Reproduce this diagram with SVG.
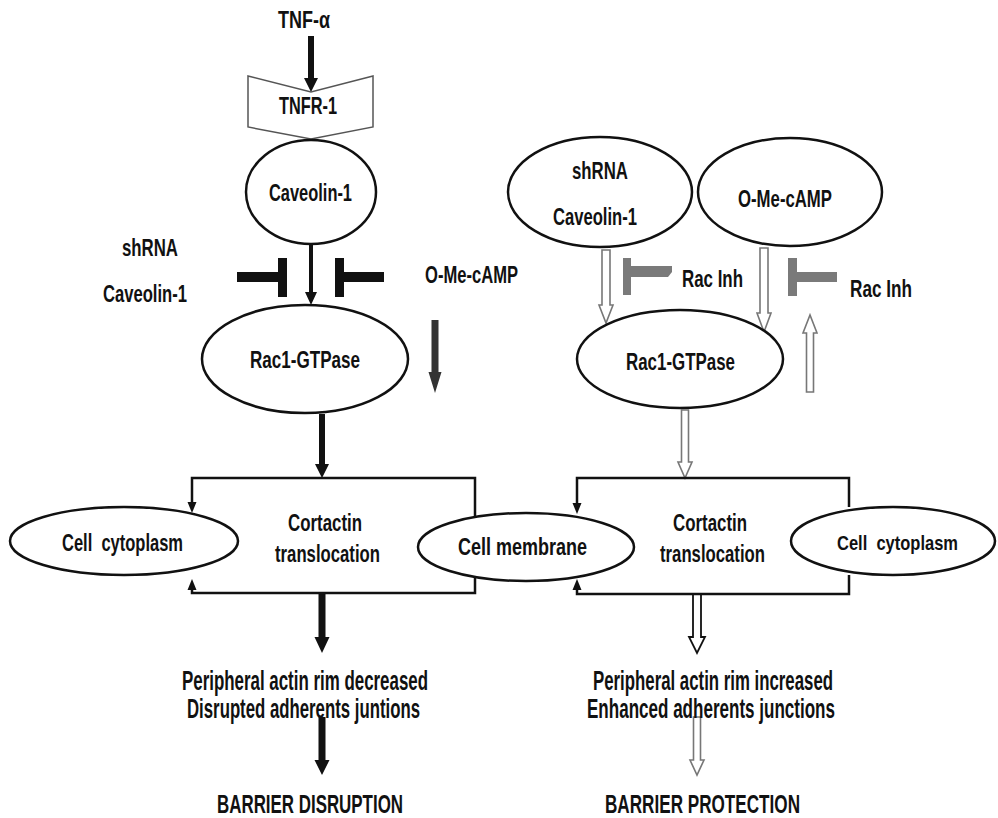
<svg xmlns="http://www.w3.org/2000/svg" width="998" height="818" viewBox="0 0 998 818">
<style>
  text { font-family: "Liberation Sans", Arial, sans-serif; font-weight: bold; font-size: 24px; fill: #111; white-space: pre; }
  .big { font-size: 27px; }
  .cap { font-size: 25px; }
  .sm { font-size: 21px; }
  .node { fill: #fff; stroke: #111; stroke-width: 2.5; }
  .box { fill: none; stroke: #111; stroke-width: 2.5; }
  .blk { fill: #111; stroke: none; }
  .dk { fill: #333; stroke: none; }
  .gry { fill: #7a7a7a; stroke: none; }
  .open { fill: #fff; stroke: #777; stroke-width: 1.6; }
  .openb { fill: #fff; stroke: #111; stroke-width: 1.8; }
</style>
<rect width="998" height="818" fill="#fff"/>

<g id="connectors">
  <!-- left pathway arrows -->
  <polygon class="blk" points="308,36 314,36 314,78 318,78 311,92 304,78 308,78"/>
  <polygon class="blk" points="309,245 313,245 313,292 317,292 311,305 305,292 309,292"/>
  <polygon class="dk" points="431.5,320 438.5,320 438.5,372 441.5,372 435,393 428.5,372 431.5,372"/>
  <polygon class="blk" points="319,414 325,414 325,464 329,464 322,478 315,464 319,464"/>
  <polygon class="blk" points="318.5,594 325.5,594 325.5,637 329.5,637 322,653 314.5,637 318.5,637"/>
  <polygon class="blk" points="318.5,717 325.5,717 325.5,760 329.5,760 322,775 314.5,760 318.5,760"/>
  <!-- black inhibitors -->
  <rect class="blk" x="237" y="272" width="45" height="10"/>
  <rect class="blk" x="278" y="258" width="9" height="39"/>
  <rect class="blk" x="335" y="258" width="9" height="39"/>
  <rect class="blk" x="343" y="272" width="41" height="10"/>
  <!-- left box -->
  <path class="box" d="M192,503 V478 H475 V520"/>
  <path class="box" d="M192,589 V593 H475 V577"/>
  <polygon class="blk" points="187.5,502 196.5,502 192,513"/>
  <polygon class="blk" points="187.5,590 196.5,590 192,579"/>

  <!-- right pathway arrows -->
  <polygon class="open" points="602,250 610,250 610,305 613,305 606,323 599,305 602,305"/>
  <polygon class="open" points="760,248 768,248 768,313 771,313 764,332 757,313 760,313"/>
  <polygon class="open" points="806.5,392 813.5,392 813.5,333 817,333 810,315 803,333 806.5,333"/>
  <polygon class="open" points="681.5,410 688.5,410 688.5,462 692,462 685,478 678,462 681.5,462"/>
  <polygon class="openb" points="693,594 701,594 701,637 705,637 697,653 689,637 693,637"/>
  <polygon class="open" points="693.5,717 700.5,717 700.5,760 704,760 697,775 690,760 693.5,760"/>
  <!-- gray inhibitors -->
  <rect class="gry" x="623" y="258" width="8" height="37"/>
  <polygon class="gry" points="631,266 672,266 672,272 668,277 631,277"/>
  <rect class="gry" x="788" y="258" width="9" height="38"/>
  <rect class="gry" x="797" y="272" width="40" height="10"/>
  <!-- right box -->
  <path class="box" d="M577,504 V478 H849 V507"/>
  <path class="box" d="M577,589 V594 H849 V575"/>
  <polygon class="blk" points="572.5,503 581.5,503 577,514"/>
  <polygon class="blk" points="572.5,590 581.5,590 577,579"/>
</g>

<g id="tnf-alpha"><text x="278" y="28" textLength="52" lengthAdjust="spacingAndGlyphs">TNF-α</text></g>
<g id="tnfr1">
  <polygon points="248,76 311,92 373,76 373,127 311,139 248,127" fill="#fff" stroke="#555" stroke-width="1.5"/>
  <text x="279" y="114" textLength="58" lengthAdjust="spacingAndGlyphs">TNFR-1</text>
</g>
<g id="caveolin-left">
  <ellipse class="node" cx="311" cy="192" rx="65" ry="52"/>
  <text x="269" y="201" textLength="83" lengthAdjust="spacingAndGlyphs">Caveolin-1</text>
</g>
<g id="label-shrna-left">
  <text x="122" y="256" textLength="56" lengthAdjust="spacingAndGlyphs">shRNA</text>
  <text x="103" y="302" textLength="84" lengthAdjust="spacingAndGlyphs">Caveolin-1</text>
</g>
<g id="label-omecamp-left"><text x="425" y="283" textLength="93" lengthAdjust="spacingAndGlyphs">O-Me-cAMP</text></g>
<g id="rac1-left">
  <ellipse class="node" cx="305" cy="359" rx="103" ry="54"/>
  <text x="250" y="368" textLength="110" lengthAdjust="spacingAndGlyphs">Rac1-GTPase</text>
</g>
<g id="shrna-right">
  <ellipse class="node" cx="600" cy="192" rx="92" ry="55"/>
  <text x="572" y="179" textLength="56" lengthAdjust="spacingAndGlyphs">shRNA</text>
  <text x="553" y="225" textLength="84" lengthAdjust="spacingAndGlyphs">Caveolin-1</text>
</g>
<g id="omecamp-right">
  <ellipse class="node" cx="790" cy="192" rx="92" ry="54"/>
  <text x="738" y="207" textLength="94" lengthAdjust="spacingAndGlyphs">O-Me-cAMP</text>
</g>
<g id="racinh-1"><text x="682" y="287" textLength="61" lengthAdjust="spacingAndGlyphs">Rac Inh</text></g>
<g id="racinh-2"><text x="850" y="297" textLength="62" lengthAdjust="spacingAndGlyphs">Rac Inh</text></g>
<g id="rac1-right">
  <ellipse class="node" cx="680" cy="359" rx="103" ry="49"/>
  <text x="626" y="370" textLength="109" lengthAdjust="spacingAndGlyphs">Rac1-GTPase</text>
</g>
<g id="cytoplasm-left">
  <ellipse class="node" cx="124" cy="541" rx="114" ry="34"/>
  <text x="62" y="551" textLength="121" lengthAdjust="spacingAndGlyphs">Cell  cytoplasm</text>
</g>
<g id="cortactin-left">
  <text x="288" y="531" textLength="74" lengthAdjust="spacingAndGlyphs">Cortactin</text>
  <text x="275" y="562" textLength="105" lengthAdjust="spacingAndGlyphs">translocation</text>
</g>
<g id="membrane">
  <ellipse class="node" cx="526" cy="547" rx="108" ry="34"/>
  <text x="458" y="555" textLength="129" lengthAdjust="spacingAndGlyphs">Cell membrane</text>
</g>
<g id="cortactin-right">
  <text x="673" y="531" textLength="74" lengthAdjust="spacingAndGlyphs">Cortactin</text>
  <text x="660" y="562" textLength="105" lengthAdjust="spacingAndGlyphs">translocation</text>
</g>
<g id="cytoplasm-right">
  <ellipse class="node" cx="893" cy="541" rx="102" ry="34"/>
  <text class="sm" x="837" y="550" textLength="121" lengthAdjust="spacingAndGlyphs">Cell  cytoplasm</text>
</g>
<g id="outcome-left">
  <text class="big" x="182" y="690" textLength="246" lengthAdjust="spacingAndGlyphs">Peripheral actin rim decreased</text>
  <text class="big" x="187" y="718" textLength="233" lengthAdjust="spacingAndGlyphs">Disrupted adherents juntions</text>
</g>
<g id="barrier-disruption"><text class="cap" x="217" y="813" textLength="186" lengthAdjust="spacingAndGlyphs">BARRIER DISRUPTION</text></g>
<g id="outcome-right">
  <text class="big" x="593" y="690" textLength="240" lengthAdjust="spacingAndGlyphs">Peripheral actin rim increased</text>
  <text class="big" x="587" y="718" textLength="248" lengthAdjust="spacingAndGlyphs">Enhanced adherents junctions</text>
</g>
<g id="barrier-protection"><text class="cap" x="605" y="813" textLength="195" lengthAdjust="spacingAndGlyphs">BARRIER PROTECTION</text></g>
</svg>
